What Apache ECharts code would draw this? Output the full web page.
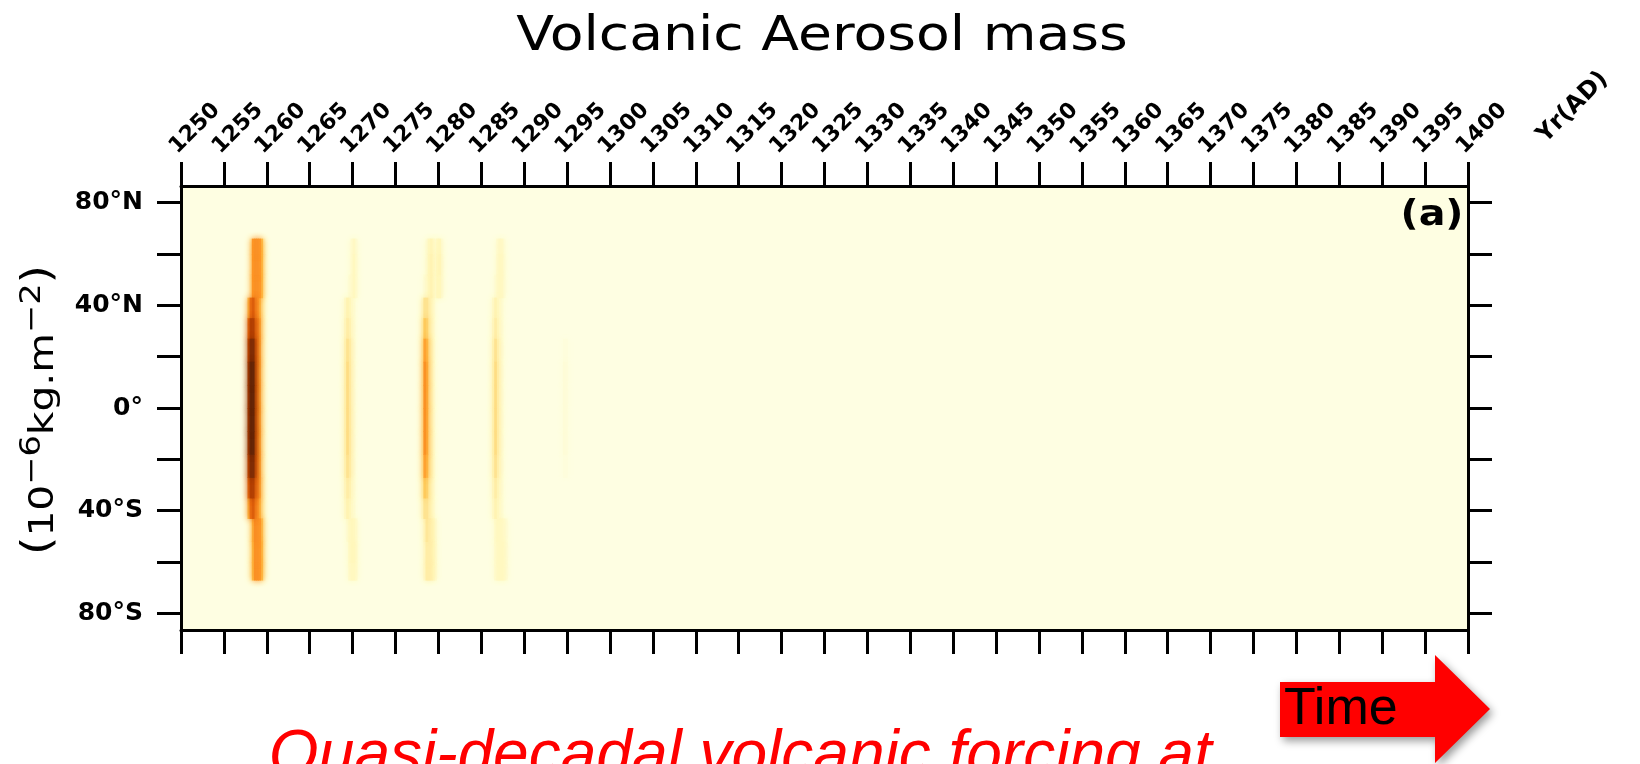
<!DOCTYPE html>
<html>
<head>
<meta charset="utf-8">
<script src="https://cdn.jsdelivr.net/npm/echarts@6/dist/echarts.min.js"></script>
<style>
  html, body { margin: 0; padding: 0; background: #ffffff; }
  #chart { width: 1640px; height: 764px; }
</style>
</head>
<body>
<div id="chart"></div>
<script>
// Axis ticks
const latTickValues = [-80, -60, -40, -20, 0, 20, 40, 60, 80];
const latLabelValues = [-80, -40, 0, 40, 80];

// Latitude band edges (south to north) shared by every pulse below
const latEdges = [-67, -60, -52, -43, -35, -27, -18, -9, 0, 9, 18, 27, 35, 43, 52, 60, 66];
// Width of one time column, in years
const binWidth = 0.25;

// Aerosol mass (10^-6 kg m^-2), rows = latitude bands (south -> north), columns = quarter years
const start1258 = 1257.75;
const mass1258 = [
  [0, 0.5, 3, 4.2, 4.2, 4, 3, 0.8],
  [0, 0.5, 3, 4.2, 4.2, 4, 3, 0.8],
  [0, 0.8, 3.2, 4.3, 4.2, 4, 2.8, 0.8],
  [3, 5, 5.5, 4.5, 4, 3, 1.5, 0.6],
  [5, 6.5, 6.5, 5, 4.5, 3.5, 1.5, 0.6],
  [6, 7.5, 7.5, 5.5, 4.5, 3.5, 1.2, 0.6],
  [6.5, 8, 8, 5.5, 4.5, 3.5, 1.2, 0.6],
  [6.5, 8, 8, 5.5, 4.5, 3.5, 1.2, 0.6],
  [6.5, 8, 8, 5.5, 4.5, 3.5, 1.2, 0.6],
  [6.5, 8, 8, 5.5, 4.5, 3.5, 1.2, 0.6],
  [6, 7.5, 7.5, 5.5, 4.5, 3.5, 1.2, 0.6],
  [5, 6.5, 6.5, 5, 4.5, 3.5, 1.5, 0.6],
  [3, 5, 5.5, 4.5, 4, 3, 1.5, 0.6],
  [0, 1.2, 4, 4.2, 4.2, 4, 3, 0.8],
  [0, 1, 4, 4.2, 4.2, 4, 3, 0.8],
  [0, 1, 4, 4.2, 4.2, 4, 3, 0.8]
];

const start1269 = 1269.0;
const mass1269 = [
  [0, 0, 0.6, 0.9, 0.9, 0.6],
  [0, 0, 0.7, 1, 1, 0.6],
  [0, 0.3, 0.8, 1, 0.9, 0.5],
  [0.6, 1.2, 1, 0.5, 0.3, 0],
  [0.8, 1.5, 1.2, 0.5, 0.3, 0],
  [1, 2, 1.5, 0.6, 0.3, 0],
  [1, 2.2, 1.5, 0.6, 0.3, 0],
  [1, 2.2, 1.5, 0.6, 0.3, 0],
  [1, 2.2, 1.5, 0.6, 0.3, 0],
  [1, 2.2, 1.5, 0.6, 0.3, 0],
  [1, 2, 1.5, 0.6, 0.3, 0],
  [0.8, 1.5, 1.2, 0.5, 0.3, 0],
  [0.6, 1.2, 1, 0.5, 0.3, 0],
  [0, 0, 0.3, 0.6, 0.9, 0.5],
  [0, 0, 0, 0.5, 0.9, 0.5],
  [0, 0, 0, 0.5, 0.8, 0.4]
];

const start1278 = 1278.0;
const mass1278 = [
  [0, 0.5, 1.5, 1.5, 1.3, 1, 0.5, 0, 0, 0],
  [0, 0.5, 1.5, 1.5, 1.3, 1, 0.5, 0, 0, 0],
  [0, 0.8, 1.8, 1.5, 1.2, 1, 0.4, 0, 0, 0],
  [0.5, 2, 2, 1.2, 0.8, 0.5, 0, 0, 0, 0],
  [0.8, 2.8, 2.5, 1.2, 0.8, 0.5, 0, 0, 0, 0],
  [1, 3.8, 3.2, 1.5, 1, 0.5, 0, 0, 0, 0],
  [1, 4.2, 3.5, 1.5, 1, 0.5, 0, 0, 0, 0],
  [1, 4.2, 3.5, 1.5, 1, 0.5, 0, 0, 0, 0],
  [1, 4.2, 3.5, 1.5, 1, 0.5, 0, 0, 0, 0],
  [1, 4.2, 3.5, 1.5, 1, 0.5, 0, 0, 0, 0],
  [1, 3.8, 3.2, 1.5, 1, 0.5, 0, 0, 0, 0],
  [0.8, 2.8, 2.5, 1.2, 0.8, 0.5, 0, 0, 0, 0],
  [0.5, 2, 2, 1.2, 0.8, 0.5, 0, 0, 0, 0],
  [0, 0.3, 0.5, 1, 1.2, 0.8, 0.3, 1, 1, 0.4],
  [0, 0, 0.3, 1, 1.2, 0.8, 0.3, 1, 1.1, 0.4],
  [0, 0, 0.3, 0.9, 1.1, 0.7, 0.3, 0.9, 1, 0.3]
];

const start1286 = 1286.25;
const mass1286 = [
  [0, 0.5, 0.8, 0.9, 0.9, 0.7, 0.4],
  [0, 0.5, 0.8, 0.9, 0.9, 0.7, 0.4],
  [0, 0.6, 0.9, 0.9, 0.8, 0.6, 0.3],
  [0.6, 1.2, 0.9, 0.5, 0.3, 0, 0],
  [0.8, 1.5, 1, 0.5, 0.3, 0, 0],
  [1, 2, 1.2, 0.6, 0.3, 0, 0],
  [1, 2.2, 1.3, 0.6, 0.3, 0, 0],
  [1, 2.2, 1.3, 0.6, 0.3, 0, 0],
  [1, 2.2, 1.3, 0.6, 0.3, 0, 0],
  [1, 2.2, 1.3, 0.6, 0.3, 0, 0],
  [1, 2, 1.2, 0.6, 0.3, 0, 0],
  [0.8, 1.5, 1, 0.5, 0.3, 0, 0],
  [0.6, 1.2, 0.9, 0.5, 0.3, 0, 0],
  [0, 0.3, 0.7, 0.9, 0.8, 0.3, 0],
  [0, 0, 0.6, 0.9, 0.8, 0.3, 0],
  [0, 0, 0.5, 0.8, 0.7, 0.2, 0]
];

const start1294 = 1294.5;
const mass1294 = [
  [0, 0], [0, 0], [0, 0], [0, 0], [0, 0],
  [0.15, 0.15],
  [0.3, 0.25], [0.3, 0.25], [0.3, 0.25], [0.3, 0.25],
  [0.15, 0.15],
  [0, 0], [0, 0], [0, 0], [0, 0], [0, 0]
];

// Colour scale (YlOrBr style), from zero mass to the peak
const massColors = ['#fefee2', '#fff7bc', '#fee391', '#fec44f', '#fe9929', '#ec7014', '#cc4c02', '#993404', '#662506'];

// Flatten the pulses into cells: [t0, t1, latLow, latHigh, mass]
function toCells(start, grid) {
  const cells = [];
  grid.forEach((row, r) => {
    row.forEach((v, c) => {
      if (v > 0) {
        const t0 = start + c * binWidth;
        cells.push([t0, t0 + binWidth, latEdges[r], latEdges[r + 1], v]);
      }
    });
  });
  return cells;
}
// Light cells first so the soft edges of stronger cells sit on top
const cells = [].concat(
  toCells(start1294, mass1294),
  toCells(start1269, mass1269),
  toCells(start1286, mass1286),
  toCells(start1278, mass1278),
  toCells(start1258, mass1258)
).sort((a, b) => a[4] - b[4]);

function latLabel(v) {
  if (v > 0) return v + '°N';
  if (v < 0) return (-v) + '°S';
  return '0°';
}

const axisLineStyle = { color: '#000', width: 3 };
const tickLen = 24;

const chart = echarts.init(document.getElementById('chart'), null, { renderer: 'canvas' });

chart.setOption({
  animation: false,
  backgroundColor: '#ffffff',
  grid: {
    left: 181, top: 186, right: 172, bottom: 134,
    show: true, backgroundColor: massColors[0], borderWidth: 0
  },
  visualMap: {
    show: false, type: 'continuous', min: 0, max: 8, dimension: 4,
    inRange: { color: massColors }
  },
  xAxis: [
    {
      type: 'value', position: 'bottom', min: 1250, max: 1400, interval: 5,
      axisLine: { show: true, onZero: false, lineStyle: axisLineStyle },
      axisTick: { show: true, length: tickLen, lineStyle: axisLineStyle },
      axisLabel: { show: false },
      splitLine: { show: false }
    },
    {
      type: 'value', position: 'top', min: 1250, max: 1400, interval: 5,
      axisLine: { show: true, onZero: false, lineStyle: axisLineStyle },
      axisTick: { show: true, length: tickLen, lineStyle: axisLineStyle },
      axisLabel: {
        show: true, rotate: -45, margin: 28, align: 'left', verticalAlign: 'bottom',
        formatter: v => String(v),
        fontFamily: 'DejaVu Sans', fontWeight: 'bold', fontSize: 22, color: '#000',
        showMinLabel: true, showMaxLabel: true
      },
      splitLine: { show: false }
    }
  ],
  yAxis: [
    {
      type: 'value', position: 'left', min: -86.5, max: 86.5,
      axisLine: { show: true, onZero: false, lineStyle: axisLineStyle },
      axisTick: { show: true, length: tickLen, customValues: latTickValues, lineStyle: axisLineStyle },
      axisLabel: {
        show: true, customValues: latLabelValues, formatter: latLabel, margin: 38,
        fontFamily: 'DejaVu Sans', fontWeight: 'bold', fontSize: 25, color: '#000'
      },
      splitLine: { show: false }
    },
    {
      type: 'value', position: 'right', min: -86.5, max: 86.5,
      axisLine: { show: true, onZero: false, lineStyle: axisLineStyle },
      axisTick: { show: true, length: tickLen, customValues: latTickValues, lineStyle: axisLineStyle },
      axisLabel: { show: false },
      splitLine: { show: false }
    }
  ],
  series: [
    {
      type: 'custom',
      name: 'Aerosol mass',
      xAxisIndex: 0,
      yAxisIndex: 0,
      clip: true,
      encode: { x: [0, 1], y: [2, 3] },
      data: cells,
      renderItem: function (params, api) {
        const a = api.coord([api.value(0), api.value(3)]);
        const b = api.coord([api.value(1), api.value(2)]);
        const c = api.visual('color');
        return {
          type: 'rect',
          shape: { x: a[0], y: a[1], width: b[0] - a[0] + 0.6, height: b[1] - a[1] + 0.6 },
          style: { fill: c, shadowBlur: 6, shadowColor: c }
        };
      }
    }
  ],
  graphic: [
    {
      type: 'text', x: 822, y: 38, scaleX: 1.15,
      style: {
        text: 'Volcanic Aerosol mass', align: 'center', verticalAlign: 'middle',
        fontFamily: 'DejaVu Sans', fontSize: 48, fill: '#000'
      }
    },
    {
      type: 'text', x: 40, y: 410, rotation: Math.PI / 2, scaleX: 1.2,
      style: {
        text: '{p|(}{n|10}{s|−6}{n|kg.m}{s|−2}{p|)}',
        align: 'center', verticalAlign: 'middle', fill: '#000',
        rich: {
          p: { fontFamily: 'DejaVu Sans', fontSize: 40, lineHeight: 42, verticalAlign: 'middle' },
          n: { fontFamily: 'DejaVu Sans', fontSize: 34, lineHeight: 34, verticalAlign: 'bottom' },
          s: { fontFamily: 'DejaVu Sans', fontSize: 28, lineHeight: 28, verticalAlign: 'top' }
        }
      }
    },
    {
      type: 'text', x: 1432, y: 216, scaleX: 1.1,
      style: {
        text: '(a)', align: 'center', verticalAlign: 'middle',
        fontFamily: 'DejaVu Sans', fontWeight: 'bold', fontSize: 36, fill: '#000'
      }
    },
    {
      type: 'text', x: 1541, y: 139, rotation: Math.PI / 4,
      style: {
        text: 'Yr(AD)', align: 'left', verticalAlign: 'middle',
        fontFamily: 'DejaVu Sans', fontWeight: 'bold', fontSize: 24, fill: '#000'
      }
    },
    {
      type: 'polygon',
      shape: { points: [[1280, 682], [1435, 682], [1435, 655], [1490, 709], [1435, 763], [1435, 737], [1280, 737]] },
      style: {
        fill: '#ff0000', shadowBlur: 8, shadowOffsetX: 3, shadowOffsetY: 4,
        shadowColor: 'rgba(0,0,0,0.4)'
      }
    },
    {
      type: 'text', x: 1284, y: 710,
      style: {
        text: 'Time', align: 'left', verticalAlign: 'middle',
        fontFamily: 'Liberation Sans', fontSize: 52, fill: '#000'
      }
    },
    {
      type: 'text', x: 269, y: 725,
      style: {
        text: 'Quasi-decadal volcanic forcing at', align: 'left', verticalAlign: 'top',
        fontFamily: 'Liberation Sans', fontStyle: 'italic', fontSize: 64, fill: '#ff0000'
      }
    }
  ]
});
</script>
</body>
</html>
